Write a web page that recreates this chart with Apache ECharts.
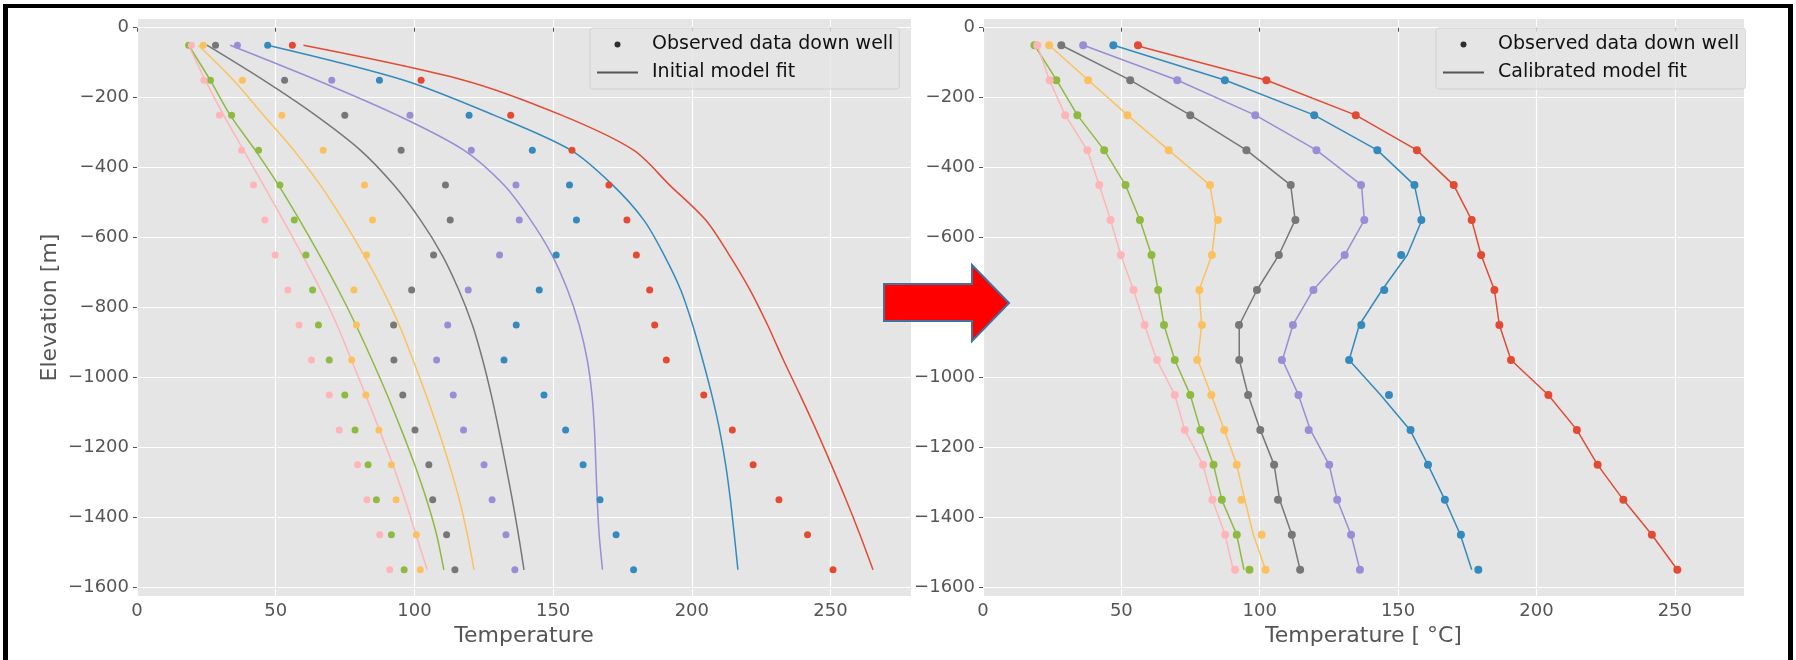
<!DOCTYPE html>
<html>
<head>
<meta charset="utf-8">
<script src="https://cdn.jsdelivr.net/npm/echarts@6/dist/echarts.min.js"></script>
<style>
  html, body { margin: 0; padding: 0; background: #fff; }
  #myChart { width: 1796px; height: 660px; }
</style>
</head>
<body>
<div id="myChart"></div>
<script>
// depths of the observation points [m]
const depths = [-50, -150, -250, -350, -450, -550, -650, -750, -850, -950, -1050, -1150, -1250, -1350, -1450, -1550];
const yTicks = [-1600, -1400, -1200, -1000, -800, -600, -400, -200, 0];
const xTicks = [0, 50, 100, 150, 200, 250];

// observed temperatures down well, one array per well
const obsRed    = [56, 102.4, 134.7, 156.8, 170.1, 176.6, 180, 184.8, 186.6, 190.8, 204.3, 214.6, 222.1, 231.4, 241.7, 250.9];
const obsBlue   = [47.1, 87.4, 119.7, 142.5, 155.9, 158.4, 151.1, 145, 136.7, 132.3, 146.7, 154.5, 160.8, 166.9, 172.7, 179];
const obsPurple = [36.2, 70.2, 98.4, 120.5, 136.6, 137.8, 130.7, 119.4, 112, 108, 114, 117.7, 125.1, 128, 133, 136.2];
const obsGray   = [28.3, 53.2, 74.9, 95.2, 111.2, 112.9, 106.9, 99, 92.5, 92.6, 95.8, 100.2, 105.2, 106.6, 111.6, 114.6];
const obsYellow = [23.9, 38, 52.2, 67.1, 82, 84.9, 82.7, 78.2, 79.1, 77.4, 82.5, 87.2, 91.7, 93.4, 100.7, 102.1];
const obsGreen  = [18.6, 26.5, 34.1, 43.8, 51.5, 56.7, 60.9, 63.3, 65.4, 69.3, 74.9, 78.6, 83.3, 86.3, 91.7, 96.3];
const obsPink   = [19.6, 24.1, 29.7, 37.7, 42, 46.1, 49.8, 54.4, 58.4, 62.9, 69.3, 72.9, 79.5, 82.9, 87.5, 91.1];

// initial model fit (left panel)
const initRed    = [60, 117.8, 153, 179, 192, 205, 213.5, 221, 227.3, 233, 239, 244.8, 250.3, 255.6, 260.6, 265.3];
const initBlue   = [47.1, 96.2, 128.7, 156.4, 171.5, 182.7, 190, 196, 200.3, 203.9, 207.2, 210, 212.2, 213.9, 215.3, 216.6];
const initPurple = [33.6, 64.9, 93.8, 117.8, 132.3, 141.9, 149.6, 155.2, 159.4, 162.3, 164, 164.9, 165.4, 165.9, 166.6, 167.8];
const initGray   = [25.2, 45.6, 64.3, 80.5, 92.6, 102.2, 110, 116, 120.9, 124.6, 127.7, 130.4, 132.9, 135.3, 137.5, 139.5];
const initYellow = [22.1, 34.8, 45.6, 56.5, 66.1, 74.3, 81.8, 88.6, 94.5, 99.5, 104.2, 108.6, 112.6, 116.2, 119.1, 121.5];
const initGreen  = [18.6, 26.4, 33.6, 42.6, 51, 58.6, 65.8, 72.6, 78.9, 84.7, 90.2, 95.3, 100.1, 104.4, 108, 110.6];
const initPink   = [18.6, 24.6, 31.2, 38.4, 45.6, 52.7, 59.6, 66.2, 72.1, 77.3, 82.4, 87.4, 92.2, 96.6, 100.6, 104.6];

// calibrated model fit (right panel)
const calRed    = [55, 102.5, 134.7, 156.8, 170.1, 176.6, 180, 184.8, 186.6, 190.8, 204.3, 214.6, 222.1, 231.4, 241.7, 250.9];
const calBlue   = [47.2, 87.6, 119.7, 142.5, 155.9, 158.6, 153.3, 144.2, 136, 132.3, 143.7, 154.3, 160.8, 166.9, 172.5, 176.6];
const calPurple = [36.3, 70.3, 98.4, 120.5, 136.8, 137.8, 130.7, 119.3, 112, 108.2, 114, 118.3, 125.1, 128, 133, 136.2];
const calGray   = [28.3, 53.2, 74.9, 95.2, 111.2, 112.8, 106.9, 99, 92.6, 92.6, 95.8, 100.2, 105.2, 107.2, 111.6, 114.6];
const calYellow = [23.9, 38.1, 52.2, 67.1, 82, 84.2, 82.7, 78.1, 79, 77.6, 82.5, 87.2, 91.7, 94.6, 97.7, 102.1];
const calGreen  = [18.6, 26.6, 34.1, 43.8, 51.5, 56.7, 60.9, 63.3, 65.4, 69.3, 74.9, 78.6, 83.3, 86.3, 91.7, 94.3];
const calPink   = [19.6, 24, 29.7, 37.7, 42, 46.1, 49.8, 54.4, 58.4, 62.8, 69.3, 72.9, 79.5, 82.9, 87.5, 90.4];

const wellColors = ['#E24A33', '#348ABD', '#988ED5', '#777777', '#FBC15E', '#8EBA42', '#FFB5B8'];
const obsSets  = [obsRed, obsBlue, obsPurple, obsGray, obsYellow, obsGreen, obsPink];
const initSets = [initRed, initBlue, initPurple, initGray, initYellow, initGreen, initPink];
const calSets  = [calRed, calBlue, calPurple, calGray, calYellow, calGreen, calPink];

const FONT = 'DejaVu Sans';

function pairs(vals) {
  return vals.map((v, i) => [v, depths[i]]);
}
function minusFmt(v) {
  return v < 0 ? '\u2212' + (-v) : String(v);
}

let myChart = echarts.init(document.getElementById('myChart'), null, {renderer: 'canvas'});

function makeX(gridIndex, max, name) {
  return {
    type: 'value', gridIndex: gridIndex, min: 0, max: max,
    name: name, nameLocation: 'middle', nameGap: 26,
    nameTextStyle: {color: '#555', fontSize: 22, fontFamily: FONT},
    axisLine: {show: false},
    axisTick: {show: true, length: 4, lineStyle: {color: '#555'}, customValues: xTicks},
    axisLabel: {color: '#555', fontSize: 18, fontFamily: FONT, margin: 6, customValues: xTicks},
    splitLine: {show: true, lineStyle: {color: '#fff', width: 1.2}}
  };
}
function makeY(gridIndex, name) {
  return {
    type: 'value', gridIndex: gridIndex, min: -1625, max: 25, splitNumber: 8,
    name: name, nameLocation: 'middle', nameGap: 76,
    nameTextStyle: {color: '#555', fontSize: 22, fontFamily: FONT},
    axisLine: {show: false},
    axisTick: {show: true, length: 4, lineStyle: {color: '#555'}, customValues: yTicks},
    axisLabel: {color: '#555', fontSize: 18, fontFamily: FONT, margin: 8, formatter: minusFmt, customValues: yTicks},
    splitLine: {show: true, lineStyle: {color: '#fff', width: 1.2}}
  };
}

let series = [];
for (let i = 0; i < wellColors.length; i++) {
  const c = wellColors[i];
  series.push({type: 'line', xAxisIndex: 0, yAxisIndex: 0, data: pairs(initSets[i]), smooth: 0.3,
    symbol: 'none', lineStyle: {color: c, width: 1.5}, itemStyle: {color: c}, z: 2});
  series.push({type: 'scatter', xAxisIndex: 0, yAxisIndex: 0, data: pairs(obsSets[i]), symbolSize: 7,
    itemStyle: {color: c, opacity: 1}, z: 3});
  series.push({type: 'line', xAxisIndex: 1, yAxisIndex: 1, data: pairs(calSets[i]),
    symbol: 'none', lineStyle: {color: c, width: 1.5}, itemStyle: {color: c}, z: 2});
  series.push({type: 'scatter', xAxisIndex: 1, yAxisIndex: 1, data: pairs(obsSets[i]), symbolSize: 8,
    itemStyle: {color: c, opacity: 1}, z: 3});
}
// legend-only series
series.push({name: 'Observed data down well', type: 'scatter', xAxisIndex: 0, yAxisIndex: 0, data: [],
  itemStyle: {color: '#000'}, symbolKeepAspect: true});
series.push({name: 'Initial model fit', type: 'line', xAxisIndex: 0, yAxisIndex: 0, data: [],
  symbol: 'none', lineStyle: {color: '#555', width: 1.5}, itemStyle: {color: 'rgba(0,0,0,0)'}});
series.push({name: 'Calibrated model fit', type: 'line', xAxisIndex: 1, yAxisIndex: 1, data: [],
  symbol: 'none', lineStyle: {color: '#555', width: 1.5}, itemStyle: {color: 'rgba(0,0,0,0)'}});

function makeLegend(left, fitName) {
  return {
    left: left, top: 28, orient: 'vertical', selectedMode: false,
    itemWidth: 41, itemHeight: 6, itemGap: 9, padding: [7, 6, 7, 6],
    backgroundColor: 'rgba(229,229,229,0.8)', borderColor: 'rgba(205,205,205,0.8)', borderWidth: 1, borderRadius: 3,
    textStyle: {fontSize: 19, color: '#111', fontFamily: FONT, padding: [0, 0, 0, 9]},
    data: [
      {name: 'Observed data down well'},
      {name: fitName, itemStyle: {color: 'rgba(0,0,0,0)', borderWidth: 0}}
    ]
  };
}

myChart.setOption({
  animation: false,
  backgroundColor: '#fff',
  grid: [
    {left: 137, top: 19, width: 774, height: 577, show: true, backgroundColor: '#E5E5E5', borderWidth: 0},
    {left: 983, top: 19, width: 761, height: 577, show: true, backgroundColor: '#E5E5E5', borderWidth: 0}
  ],
  xAxis: [makeX(0, 279, 'Temperature'), makeX(1, 275, 'Temperature [ °C]')],
  yAxis: [makeY(0, 'Elevation [m]'), makeY(1, '')],
  legend: [
    makeLegend(590, 'Initial model fit'),
    makeLegend(1436, 'Calibrated model fit')
  ],
  graphic: [
    {type: 'polygon', z: 100,
      shape: {points: [[884, 284], [972, 284], [972, 265], [1009, 303], [972, 341], [972, 321], [884, 321]]},
      style: {fill: '#FF0000', stroke: '#41719C', lineWidth: 2}},
    // black frame
    {type: 'rect', z: 100, shape: {x: 3, y: 4, width: 1790, height: 4}, style: {fill: '#000'}},
    {type: 'rect', z: 100, shape: {x: 3, y: 4, width: 5, height: 656}, style: {fill: '#000'}},
    {type: 'rect', z: 100, shape: {x: 1788, y: 4, width: 5, height: 656}, style: {fill: '#000'}}
  ],
  series: series
});
</script>
</body>
</html>
